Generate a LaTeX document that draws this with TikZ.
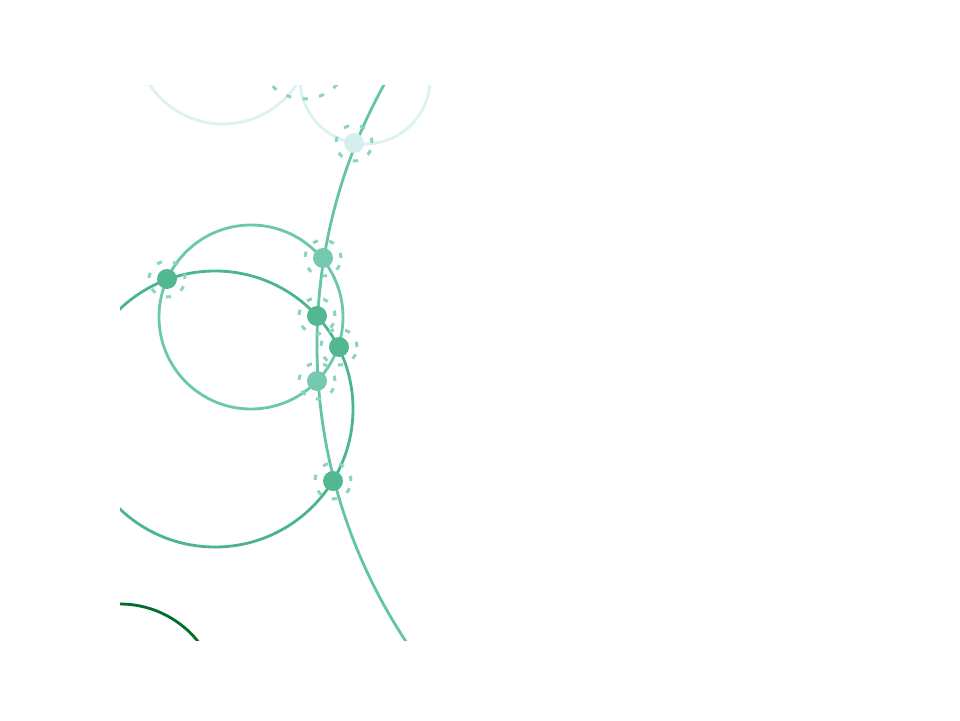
\documentclass[tikz,border=0pt]{standalone}
\usepackage{xcolor}
\usepackage{tikz}
\usetikzlibrary{positioning}
\definecolor{ptgreen}{RGB}{82,184,143}
\definecolor{ptlight}{RGB}{116,201,176}
\definecolor{ptpale}{RGB}{214,239,238}
\definecolor{haloteal}{RGB}{140,212,190}
\definecolor{arcteal}{RGB}{102,196,166}
\definecolor{circmid}{RGB}{108,200,172}
\definecolor{circbig}{RGB}{76,181,140}
\definecolor{circpale}{RGB}{220,241,241}
\definecolor{arcdark}{RGB}{0,109,44}

\begin{document}
\begin{tikzpicture}[x=0.02cm, y=-0.02cm,
  curve/.style={draw=#1, line width=1.6pt},
  pt/.style={circle, fill=#1, inner sep=0pt, minimum size=0.4cm},
  halo/.style={circle, draw=haloteal, line width=1.7pt,
               dash pattern=on 3pt off 6.5pt, inner sep=0pt, minimum size=0.72cm},
]
  \useasboundingbox (0,0) rectangle (960,720);

  % Centres of the circles
  \coordinate (cpaleA) at (223,36);
  \coordinate (cpaleB) at (365,79);
  \coordinate (cmid) at (251,317);
  \coordinate (cbig) at (215,409);
  \coordinate (carc) at (855,345);
  \coordinate (cdark) at (120,704);
  \coordinate (chalo) at (304,54);

  \begin{scope}
    \clip (120,85) rectangle (840,640);

    % Circles
    \draw[curve=circpale] (cpaleA) circle[radius=88];
    \draw[curve=circpale] (cpaleB) circle[radius=65];
    \draw[curve=arcteal] (carc) circle[radius=538];
    \draw[curve=circmid] (cmid) circle[radius=92];
    \draw[curve=circbig] (cbig) circle[radius=138];
    \draw[curve=arcdark] (cdark) circle[radius=100];
    \draw[draw=haloteal, line width=1.7pt, dash pattern=on 3pt off 6.5pt]
      (chalo) circle[radius=45];

    % Points
    \node[pt=ptpale] (pa) at (354,143) {};
    \node[pt=ptgreen] (pb) at (167,279) {};
    \node[pt=ptlight] (pc) at (323,258) {};
    \node[pt=ptgreen] (pd) at (317,316) {};
    \node[pt=ptgreen] (pe) at (339,347) {};
    \node[pt=ptlight] (pf) at (317,381) {};
    \node[pt=ptgreen] (pg) at (333,481) {};

    % Halos
    \foreach \p in {pa,pb,pc,pd,pe,pf,pg}
      \node[halo] at (\p) {};
  \end{scope}
\end{tikzpicture}
\end{document}
